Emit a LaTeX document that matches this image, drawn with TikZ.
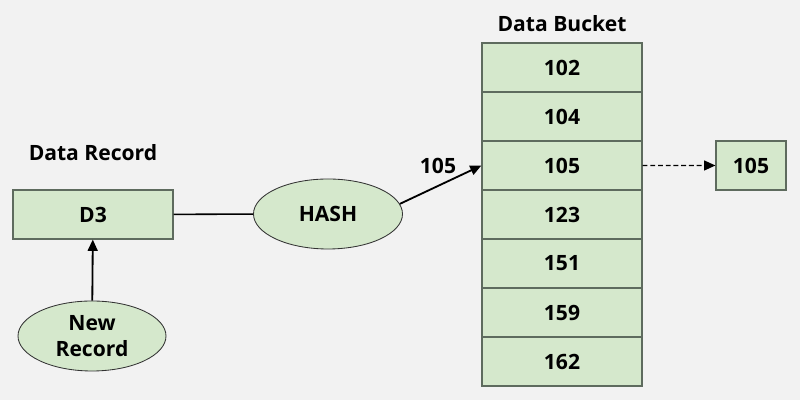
\documentclass[tikz,border=0pt]{standalone}
\usepackage{fontspec}
\setmainfont{Open Sans}
\usetikzlibrary{arrows.meta,positioning,shapes.geometric}

\definecolor{bgcol}{HTML}{F2F2F2}
\definecolor{cellfill}{HTML}{D5E8CC}
\definecolor{celldraw}{HTML}{5E6B5E}

\tikzset{
  cell/.style={draw=celldraw,fill=cellfill,line width=0.8pt,minimum width=4cm,minimum height=1.225cm,inner sep=0pt,font=\bfseries\fontsize{15}{17}\selectfont},
  oval/.style={ellipse,draw=black!80,fill=cellfill,line width=0.6pt,minimum width=3.7cm,minimum height=1.75cm,inner sep=0pt,align=center,font=\bfseries\fontsize{15}{18}\selectfont},
  title/.style={font=\bfseries\fontsize{15}{17}\selectfont}
}

\begin{document}
\begin{tikzpicture}[>={Triangle[length=8pt,width=7pt]}]

% Background
\fill[bgcol] (0,0) rectangle (20,10);
\useasboundingbox (0,0) rectangle (20,10);

% Data record
\node[title] (rectitle) at (2.325,6.175) {Data Record};
\node[cell] (d3) at (2.325,4.6375) {D3};
\node[oval] (newrec) at (2.3,1.6) {New\\Record};

% Hash function
\node[oval,minimum width=3.725cm] (hash) at (8.2,4.65) {HASH};

% Data bucket
\node[title] (buctitle) at (14.05,9.4) {Data Bucket};
\foreach \v [count=\i] in {102,104,105,123,151,159,162}
  \node[cell] (b\i) at (14.05,8.3125-1.225*\i+1.225) {\v};

% Found record
\node[cell,minimum width=1.75cm] (found) at (18.775,5.8625) {105};

% Connectors
\draw[->,line width=1.3pt] (newrec) -- (d3);
\draw[line width=1.1pt] (d3) -- (hash);
\draw[->,line width=1.3pt] (hash.8) -- (b3.west);
\node[title] (hashval) at (10.95,5.85) {105};
\draw[->,line width=1pt,dash pattern=on 3.5pt off 2pt] (b3.east) -- (found);

\end{tikzpicture}
\end{document}
